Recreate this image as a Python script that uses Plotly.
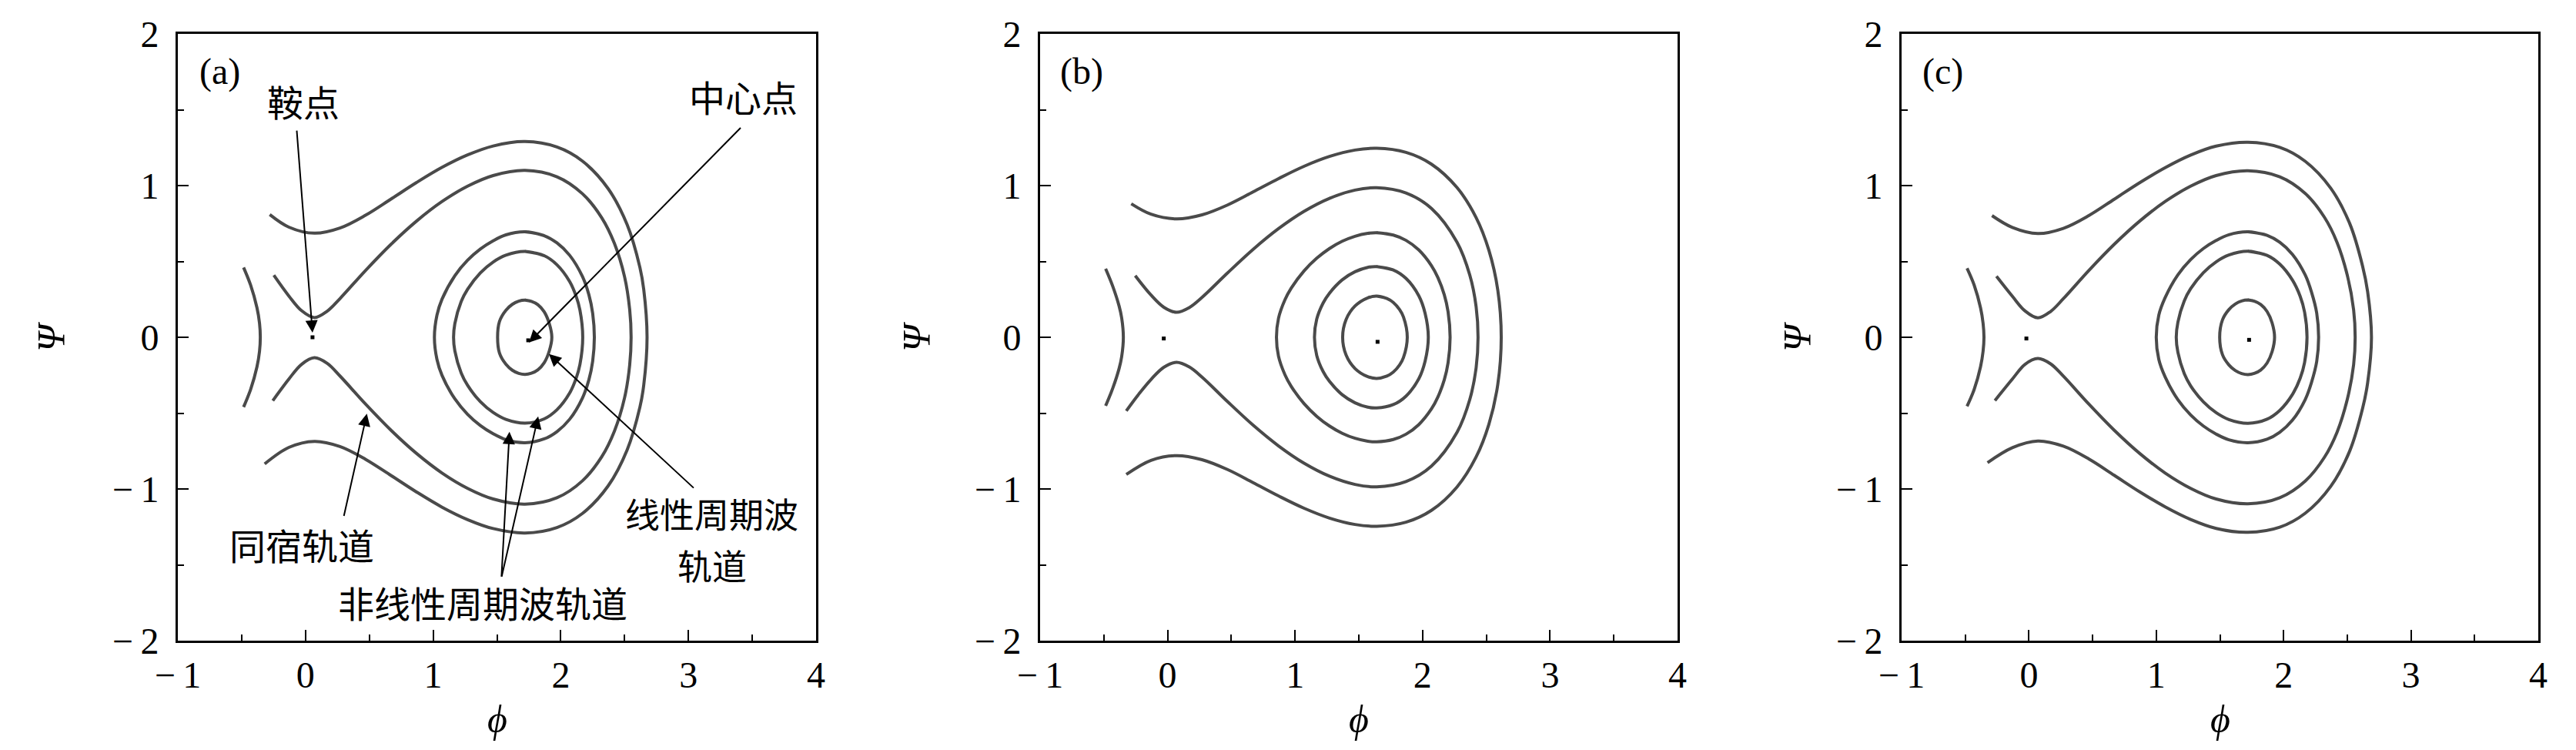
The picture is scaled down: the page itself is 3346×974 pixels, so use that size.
import plotly.graph_objects as go

# ---------------- data ----------------
# Panel (a)
A_arc_x = [-0.485, -0.43, -0.38, -0.36, -0.354, -0.36, -0.38, -0.43, -0.485]
A_arc_y = [0.46, 0.344, 0.194, 0.092, 0.0, -0.092, -0.194, -0.344, -0.46]
A_in_x = [-0.248, -0.13, -0.03, 0.07, 0.17, 0.27, 0.47, 0.67, 0.87, 1.07, 1.27, 1.47, 1.72, 1.97, 2.17, 2.32, 2.42, 2.50, 2.54, 2.551,
          2.54, 2.50, 2.42, 2.32, 2.17, 1.97, 1.72, 1.47, 1.27, 1.07, 0.87, 0.67, 0.47, 0.27, 0.17, 0.07, -0.03, -0.13, -0.256]
A_in_y = [0.409, 0.272, 0.175, 0.130, 0.172, 0.255, 0.440, 0.613, 0.766, 0.895, 0.996, 1.066, 1.100, 1.058, 0.946, 0.789, 0.619, 0.398, 0.182, 0.0,
          -0.182, -0.398, -0.619, -0.789, -0.946, -1.058, -1.100, -1.066, -0.996, -0.895, -0.766, -0.613, -0.440, -0.255, -0.172, -0.135, -0.178, -0.275, -0.418]
A_out_x = [-0.28, -0.13, 0.07, 0.27, 0.47, 0.67, 0.87, 1.07, 1.27, 1.47, 1.72, 1.97, 2.17, 2.37, 2.52, 2.62, 2.65, 2.676,
           2.65, 2.62, 2.52, 2.37, 2.17, 1.97, 1.72, 1.47, 1.27, 1.07, 0.87, 0.67, 0.47, 0.27, 0.07, -0.13, -0.32]
A_out_y = [0.809, 0.726, 0.686, 0.720, 0.804, 0.911, 1.020, 1.120, 1.202, 1.261, 1.290, 1.254, 1.161, 0.981, 0.742, 0.460, 0.315, 0.0,
           -0.315, -0.460, -0.742, -0.981, -1.161, -1.254, -1.290, -1.261, -1.202, -1.120, -1.020, -0.911, -0.804, -0.720, -0.686, -0.726, -0.835]
A_c1_x = [1.72, 1.87, 1.97, 2.07, 2.17, 2.22, 2.25, 2.263, 2.25, 2.22, 2.17, 2.07, 1.97, 1.87, 1.72, 1.57, 1.47, 1.37, 1.27, 1.17,
          1.07, 1.03, 1.01, 1.03, 1.07, 1.17, 1.27, 1.37, 1.47, 1.57, 1.72, 1.87]
A_c1_y = [0.695, 0.670, 0.622, 0.540, 0.400, 0.281, 0.157, 0.0, -0.157, -0.281, -0.400, -0.540, -0.622, -0.670, -0.695, -0.675,
          -0.636, -0.582, -0.508, -0.406, -0.252, -0.146, 0.0, 0.146, 0.252, 0.406, 0.508, 0.582, 0.636, 0.675, 0.695, 0.670]
A_c2_x = [1.72, 1.87, 1.97, 2.07, 2.12, 2.15, 2.172, 2.15, 2.12, 2.07, 1.97, 1.87, 1.72, 1.57, 1.47, 1.37, 1.27, 1.22, 1.17, 1.16,
          1.17, 1.22, 1.27, 1.37, 1.47, 1.57, 1.72, 1.87]
A_c2_y = [0.566, 0.538, 0.478, 0.367, 0.271, 0.180, 0.0, -0.180, -0.271, -0.367, -0.478, -0.538, -0.566, -0.541, -0.496, -0.425,
          -0.317, -0.236, -0.090, 0.0, 0.090, 0.236, 0.317, 0.425, 0.496, 0.541, 0.566, 0.538]
A_c3_x = [1.72, 1.77, 1.82, 1.87, 1.91, 1.93, 1.91, 1.87, 1.82, 1.77, 1.72, 1.67, 1.62, 1.57, 1.52, 1.505, 1.52, 1.57, 1.62, 1.67, 1.72, 1.77]
A_c3_y = [0.245, 0.237, 0.215, 0.168, 0.090, 0.0, -0.090, -0.168, -0.215, -0.237, -0.245, -0.238, -0.217, -0.178, -0.105, 0.0,
          0.105, 0.178, 0.217, 0.238, 0.245, 0.237]
A_dot_x = [0.055, 1.745]
A_dot_y = [0.0, -0.02]

# Panel (b)
B_arc_x = [-0.486, -0.43, -0.38, -0.36, -0.347, -0.36, -0.38, -0.43, -0.486]
B_arc_y = [0.452, 0.336, 0.205, 0.127, 0.0, -0.127, -0.205, -0.336, -0.452]
B_in_x = [-0.254, -0.13, -0.03, 0.07, 0.17, 0.27, 0.47, 0.67, 0.87, 1.07, 1.27, 1.47, 1.64, 1.87, 2.07, 2.27, 2.37, 2.42, 2.435,
          2.42, 2.37, 2.27, 2.07, 1.87, 1.64, 1.47, 1.27, 1.07, 0.87, 0.67, 0.47, 0.27, 0.17, 0.07, -0.03, -0.13, -0.23, -0.324]
B_in_y = [0.406, 0.278, 0.198, 0.165, 0.196, 0.263, 0.424, 0.579, 0.716, 0.830, 0.916, 0.970, 0.986, 0.951, 0.849, 0.627, 0.411, 0.202, 0.0,
          -0.202, -0.411, -0.627, -0.849, -0.951, -0.986, -0.970, -0.916, -0.830, -0.716, -0.579, -0.424, -0.263, -0.196, -0.165, -0.198, -0.278, -0.379, -0.485]
B_out_x = [-0.285, -0.13, 0.07, 0.27, 0.47, 0.67, 0.87, 1.07, 1.27, 1.47, 1.64, 1.87, 2.07, 2.27, 2.42, 2.52, 2.59, 2.617,
           2.59, 2.52, 2.42, 2.27, 2.07, 1.87, 1.64, 1.47, 1.27, 1.07, 0.87, 0.67, 0.47, 0.27, 0.07, -0.13, -0.324]
B_out_y = [0.880, 0.811, 0.780, 0.807, 0.872, 0.958, 1.046, 1.127, 1.192, 1.234, 1.246, 1.219, 1.141, 0.987, 0.789, 0.574, 0.311, 0.0,
           -0.311, -0.574, -0.789, -0.987, -1.141, -1.219, -1.246, -1.234, -1.192, -1.127, -1.046, -0.958, -0.872, -0.807, -0.780, -0.811, -0.904]
B_c1_x = [1.64, 1.77, 1.87, 1.97, 2.07, 2.12, 2.17, 2.20, 2.216, 2.20, 2.17, 2.12, 2.07, 1.97, 1.87, 1.77, 1.64, 1.57, 1.47, 1.37,
          1.27, 1.17, 1.07, 0.97, 0.92, 0.87, 0.854, 0.87, 0.92, 0.97, 1.07, 1.17, 1.27, 1.37, 1.47, 1.57, 1.64, 1.77]
B_c1_y = [0.689, 0.674, 0.639, 0.576, 0.472, 0.394, 0.281, 0.168, 0.0, -0.168, -0.281, -0.394, -0.472, -0.576, -0.639, -0.674,
          -0.689, -0.685, -0.666, -0.633, -0.585, -0.521, -0.437, -0.324, -0.246, -0.125, 0.0, 0.125, 0.246, 0.324, 0.437, 0.521,
          0.585, 0.633, 0.666, 0.685, 0.689, 0.674]
B_c2_x = [1.64, 1.77, 1.87, 1.97, 2.02, 2.045, 2.02, 1.97, 1.87, 1.77, 1.64, 1.57, 1.47, 1.37, 1.27, 1.22, 1.17, 1.152,
          1.17, 1.22, 1.27, 1.37, 1.47, 1.57, 1.64, 1.77]
B_c2_y = [0.466, 0.444, 0.388, 0.274, 0.157, 0.0, -0.157, -0.274, -0.388, -0.444, -0.466, -0.461, -0.432, -0.379, -0.291, -0.226,
          -0.120, 0.0, 0.120, 0.226, 0.291, 0.379, 0.432, 0.461, 0.466, 0.444]
B_c3_x = [1.64, 1.72, 1.77, 1.82, 1.85, 1.88, 1.85, 1.82, 1.77, 1.72, 1.64, 1.57, 1.47, 1.40, 1.373, 1.40, 1.47, 1.57, 1.64, 1.72]
B_c3_y = [0.271, 0.256, 0.230, 0.182, 0.134, 0.0, -0.134, -0.182, -0.230, -0.256, -0.271, -0.260, -0.206, -0.117, 0.0,
          0.117, 0.206, 0.260, 0.271, 0.256]
B_dot_x = [-0.03, 1.647]
B_dot_y = [-0.008, -0.03]

# Panel (c)
C_arc_x = [-0.486, -0.43, -0.38, -0.36, -0.353, -0.36, -0.38, -0.43, -0.486]
C_arc_y = [0.455, 0.344, 0.194, 0.092, 0.0, -0.092, -0.194, -0.344, -0.455]
C_in_x = [-0.255, -0.13, -0.03, 0.07, 0.17, 0.27, 0.47, 0.67, 0.87, 1.07, 1.27, 1.47, 1.72, 1.97, 2.17, 2.32, 2.42, 2.50, 2.55, 2.562,
          2.55, 2.50, 2.42, 2.32, 2.17, 1.97, 1.72, 1.47, 1.27, 1.07, 0.87, 0.67, 0.47, 0.27, 0.17, 0.07, -0.03, -0.13, -0.267]
C_in_y = [0.402, 0.270, 0.173, 0.128, 0.170, 0.254, 0.440, 0.613, 0.766, 0.895, 0.996, 1.066, 1.098, 1.058, 0.948, 0.792, 0.625, 0.410, 0.180, 0.0,
          -0.180, -0.410, -0.625, -0.792, -0.948, -1.058, -1.098, -1.066, -0.996, -0.895, -0.766, -0.613, -0.440, -0.256, -0.175, -0.140, -0.178, -0.275, -0.417]
C_out_x = [-0.29, -0.13, 0.07, 0.27, 0.47, 0.67, 0.87, 1.07, 1.27, 1.47, 1.72, 1.97, 2.17, 2.37, 2.52, 2.62, 2.66, 2.69,
           2.66, 2.62, 2.52, 2.37, 2.17, 1.97, 1.72, 1.47, 1.27, 1.07, 0.87, 0.67, 0.47, 0.27, 0.07, -0.13, -0.325]
C_out_y = [0.802, 0.724, 0.684, 0.718, 0.802, 0.910, 1.019, 1.118, 1.201, 1.260, 1.286, 1.252, 1.160, 0.983, 0.748, 0.470, 0.300, 0.0,
           -0.300, -0.470, -0.748, -0.983, -1.160, -1.252, -1.286, -1.260, -1.201, -1.118, -1.019, -0.910, -0.802, -0.718, -0.684, -0.728, -0.827]
C_c1_x = [1.72, 1.87, 1.97, 2.07, 2.17, 2.22, 2.26, 2.275, 2.26, 2.22, 2.17, 2.07, 1.97, 1.87, 1.72, 1.57, 1.47, 1.37, 1.27, 1.17,
          1.07, 1.02, 1.0, 1.02, 1.07, 1.17, 1.27, 1.37, 1.47, 1.57, 1.72, 1.87]
C_c1_y = [0.695, 0.672, 0.626, 0.546, 0.410, 0.295, 0.160, 0.0, -0.160, -0.295, -0.410, -0.546, -0.626, -0.672, -0.695, -0.676,
          -0.638, -0.585, -0.512, -0.412, -0.262, -0.146, 0.0, 0.146, 0.262, 0.412, 0.512, 0.585, 0.638, 0.676, 0.695, 0.672]
C_c2_x = [1.72, 1.87, 1.97, 2.07, 2.13, 2.165, 2.184, 2.165, 2.13, 2.07, 1.97, 1.87, 1.72, 1.57, 1.47, 1.37, 1.27, 1.22, 1.17, 1.157,
          1.17, 1.22, 1.27, 1.37, 1.47, 1.57, 1.72, 1.87]
C_c2_y = [0.567, 0.540, 0.482, 0.376, 0.270, 0.165, 0.0, -0.165, -0.270, -0.376, -0.482, -0.540, -0.567, -0.542, -0.497, -0.426,
          -0.320, -0.240, -0.100, 0.0, 0.100, 0.240, 0.320, 0.426, 0.497, 0.542, 0.567, 0.540]
C_c3_x = [1.72, 1.77, 1.82, 1.87, 1.91, 1.929, 1.91, 1.87, 1.82, 1.77, 1.72, 1.67, 1.62, 1.57, 1.52, 1.498, 1.52, 1.57, 1.62, 1.67, 1.72, 1.77]
C_c3_y = [0.246, 0.238, 0.216, 0.170, 0.094, 0.0, -0.094, -0.170, -0.216, -0.238, -0.246, -0.239, -0.219, -0.182, -0.115, 0.0,
          0.115, 0.182, 0.219, 0.239, 0.246, 0.238]
C_dot_x = [-0.02, 1.729]
C_dot_y = [-0.008, -0.017]

TICK_VALS = [-1, 0, 1, 2, 3, 4]
TICK_TEXT_X = ["\u2212\u20091", "0", "1", "2", "3", "4"]
TICK_VALS_Y = [-2, -1, 0, 1, 2]
TICK_TEXT_Y = ["\u2212\u20092", "\u2212\u20091", "0", "1", "2"]
PANEL_LABELS = ["(a)", "(b)", "(c)"]

# ---------------- styling ----------------
W, H = 3346, 974
CURVE = "#4a4a4a"
SERIF = "Liberation Serif, DejaVu Serif, serif"
CJK = "Noto Sans CJK SC, sans-serif"

boxes_x = [(223, 1052), (1343, 2171), (2462, 3289)]
box_top, box_bottom = 36, 824
psi_x = [58, 1182, 2326]

fig = go.Figure()

panels = [
    [(A_arc_x, A_arc_y), (A_in_x, A_in_y), (A_out_x, A_out_y), (A_c1_x, A_c1_y), (A_c2_x, A_c2_y), (A_c3_x, A_c3_y)],
    [(B_arc_x, B_arc_y), (B_in_x, B_in_y), (B_out_x, B_out_y), (B_c1_x, B_c1_y), (B_c2_x, B_c2_y), (B_c3_x, B_c3_y)],
    [(C_arc_x, C_arc_y), (C_in_x, C_in_y), (C_out_x, C_out_y), (C_c1_x, C_c1_y), (C_c2_x, C_c2_y), (C_c3_x, C_c3_y)],
]
dots = [(A_dot_x, A_dot_y), (B_dot_x, B_dot_y), (C_dot_x, C_dot_y)]

for i, curves in enumerate(panels):
    xa = "x" if i == 0 else f"x{i+1}"
    ya = "y" if i == 0 else f"y{i+1}"
    for cx, cy in curves:
        fig.add_trace(go.Scatter(x=cx, y=cy, mode="lines", xaxis=xa, yaxis=ya,
                                 line=dict(color=CURVE, width=4, shape="spline", smoothing=1.0),
                                 showlegend=False, hoverinfo="skip"))
    fig.add_trace(go.Scatter(x=dots[i][0], y=dots[i][1], mode="markers", xaxis=xa, yaxis=ya,
                             marker=dict(symbol="square", size=5, color="black", line=dict(width=0)),
                             showlegend=False, hoverinfo="skip"))

layout = dict(width=W, height=H, margin=dict(l=0, r=0, t=0, b=0, autoexpand=False), autosize=False,
              paper_bgcolor="white", plot_bgcolor="white", showlegend=False)

annotations = []
for i in range(3):
    l, r = boxes_x[i]
    xd = [l / W, r / W]
    yd = [1 - box_bottom / H, 1 - box_top / H]
    xkey = "xaxis" if i == 0 else f"xaxis{i+1}"
    ykey = "yaxis" if i == 0 else f"yaxis{i+1}"
    xa = "x" if i == 0 else f"x{i+1}"
    ya = "y" if i == 0 else f"y{i+1}"
    common = dict(showline=True, mirror=True, linecolor="black", linewidth=3,
                  ticks="inside", ticklen=14, tickwidth=2, tickcolor="black",
                  showgrid=False, zeroline=False, fixedrange=True, automargin=False,
                  tickfont=dict(family=SERIF, size=48, color="black"))
    layout[xkey] = dict(domain=xd, range=[-1, 4], anchor=ya, tickvals=TICK_VALS, ticktext=TICK_TEXT_X,
                        minor=dict(ticks="inside", ticklen=8, tickwidth=2, tickcolor="black", dtick=0.5, showgrid=False),
                        ticklabelstandoff=0, **common)
    layout[ykey] = dict(domain=yd, range=[-2, 2], anchor=xa, tickvals=TICK_VALS_Y, ticktext=TICK_TEXT_Y,
                        minor=dict(ticks="inside", ticklen=8, tickwidth=2, tickcolor="black", dtick=0.5, showgrid=False),
                        ticklabelstandoff=12, **common)
    annotations.append(dict(text="<i>\u03d5</i>", x=(l + r) / 2 / W, y=1 - 926 / H, xref="paper", yref="paper",
                            showarrow=False, font=dict(family=SERIF, size=50, color="black"),
                            xanchor="center", yanchor="middle"))
    annotations.append(dict(text="<i>\u03a8</i>", x=psi_x[i] / W, y=1 - 430 / H, xref="paper", yref="paper",
                            showarrow=False, textangle=-90, font=dict(family=SERIF, size=50, color="black"),
                            xanchor="center", yanchor="middle"))
    annotations.append(dict(text=PANEL_LABELS[i], x=-0.674, y=1.75, xref=xa, yref=ya, showarrow=False,
                            font=dict(family=SERIF, size=48, color="black"), xanchor="center", yanchor="middle"))

LABELS_A = [
    ("鞍点", -0.014, 1.561, 47),
    ("中心点", 3.43, 1.59, 47),
    ("线性周期波", 3.185, -1.16, 45),
    ("轨道", 3.185, -1.50, 45),
    ("同宿轨道", -0.031, -1.364, 47),
    ("非线性周期波轨道", 1.387, -1.743, 47),
]
ARROWS_A = [  # (tail_x, tail_y, head_x, head_y)
    (-0.069, 1.37, 0.055, 0.03),
    (3.418, 1.388, 1.751, -0.034),
    (3.05, -1.0, 1.907, -0.11),
    (0.299, -1.185, 0.481, -0.504),
    (1.535, -1.585, 1.598, -0.623),
    (1.535, -1.585, 1.823, -0.522),
]
for t, x, y, fs in LABELS_A:
    annotations.append(dict(text=t, x=x, y=y, xref="x", yref="y", showarrow=False,
                            font=dict(family=CJK, size=fs, color="black"), xanchor="center", yanchor="middle"))
for tx, ty, hx, hy in ARROWS_A:
    annotations.append(dict(text="", x=hx, y=hy, ax=tx, ay=ty, xref="x", yref="y", axref="x", ayref="y",
                            showarrow=True, arrowhead=2, arrowsize=1.6, arrowwidth=2, arrowcolor="black",
                            standoff=0, startstandoff=0))

layout["annotations"] = annotations
fig.update_layout(**layout)
fig.write_html("out.html")
